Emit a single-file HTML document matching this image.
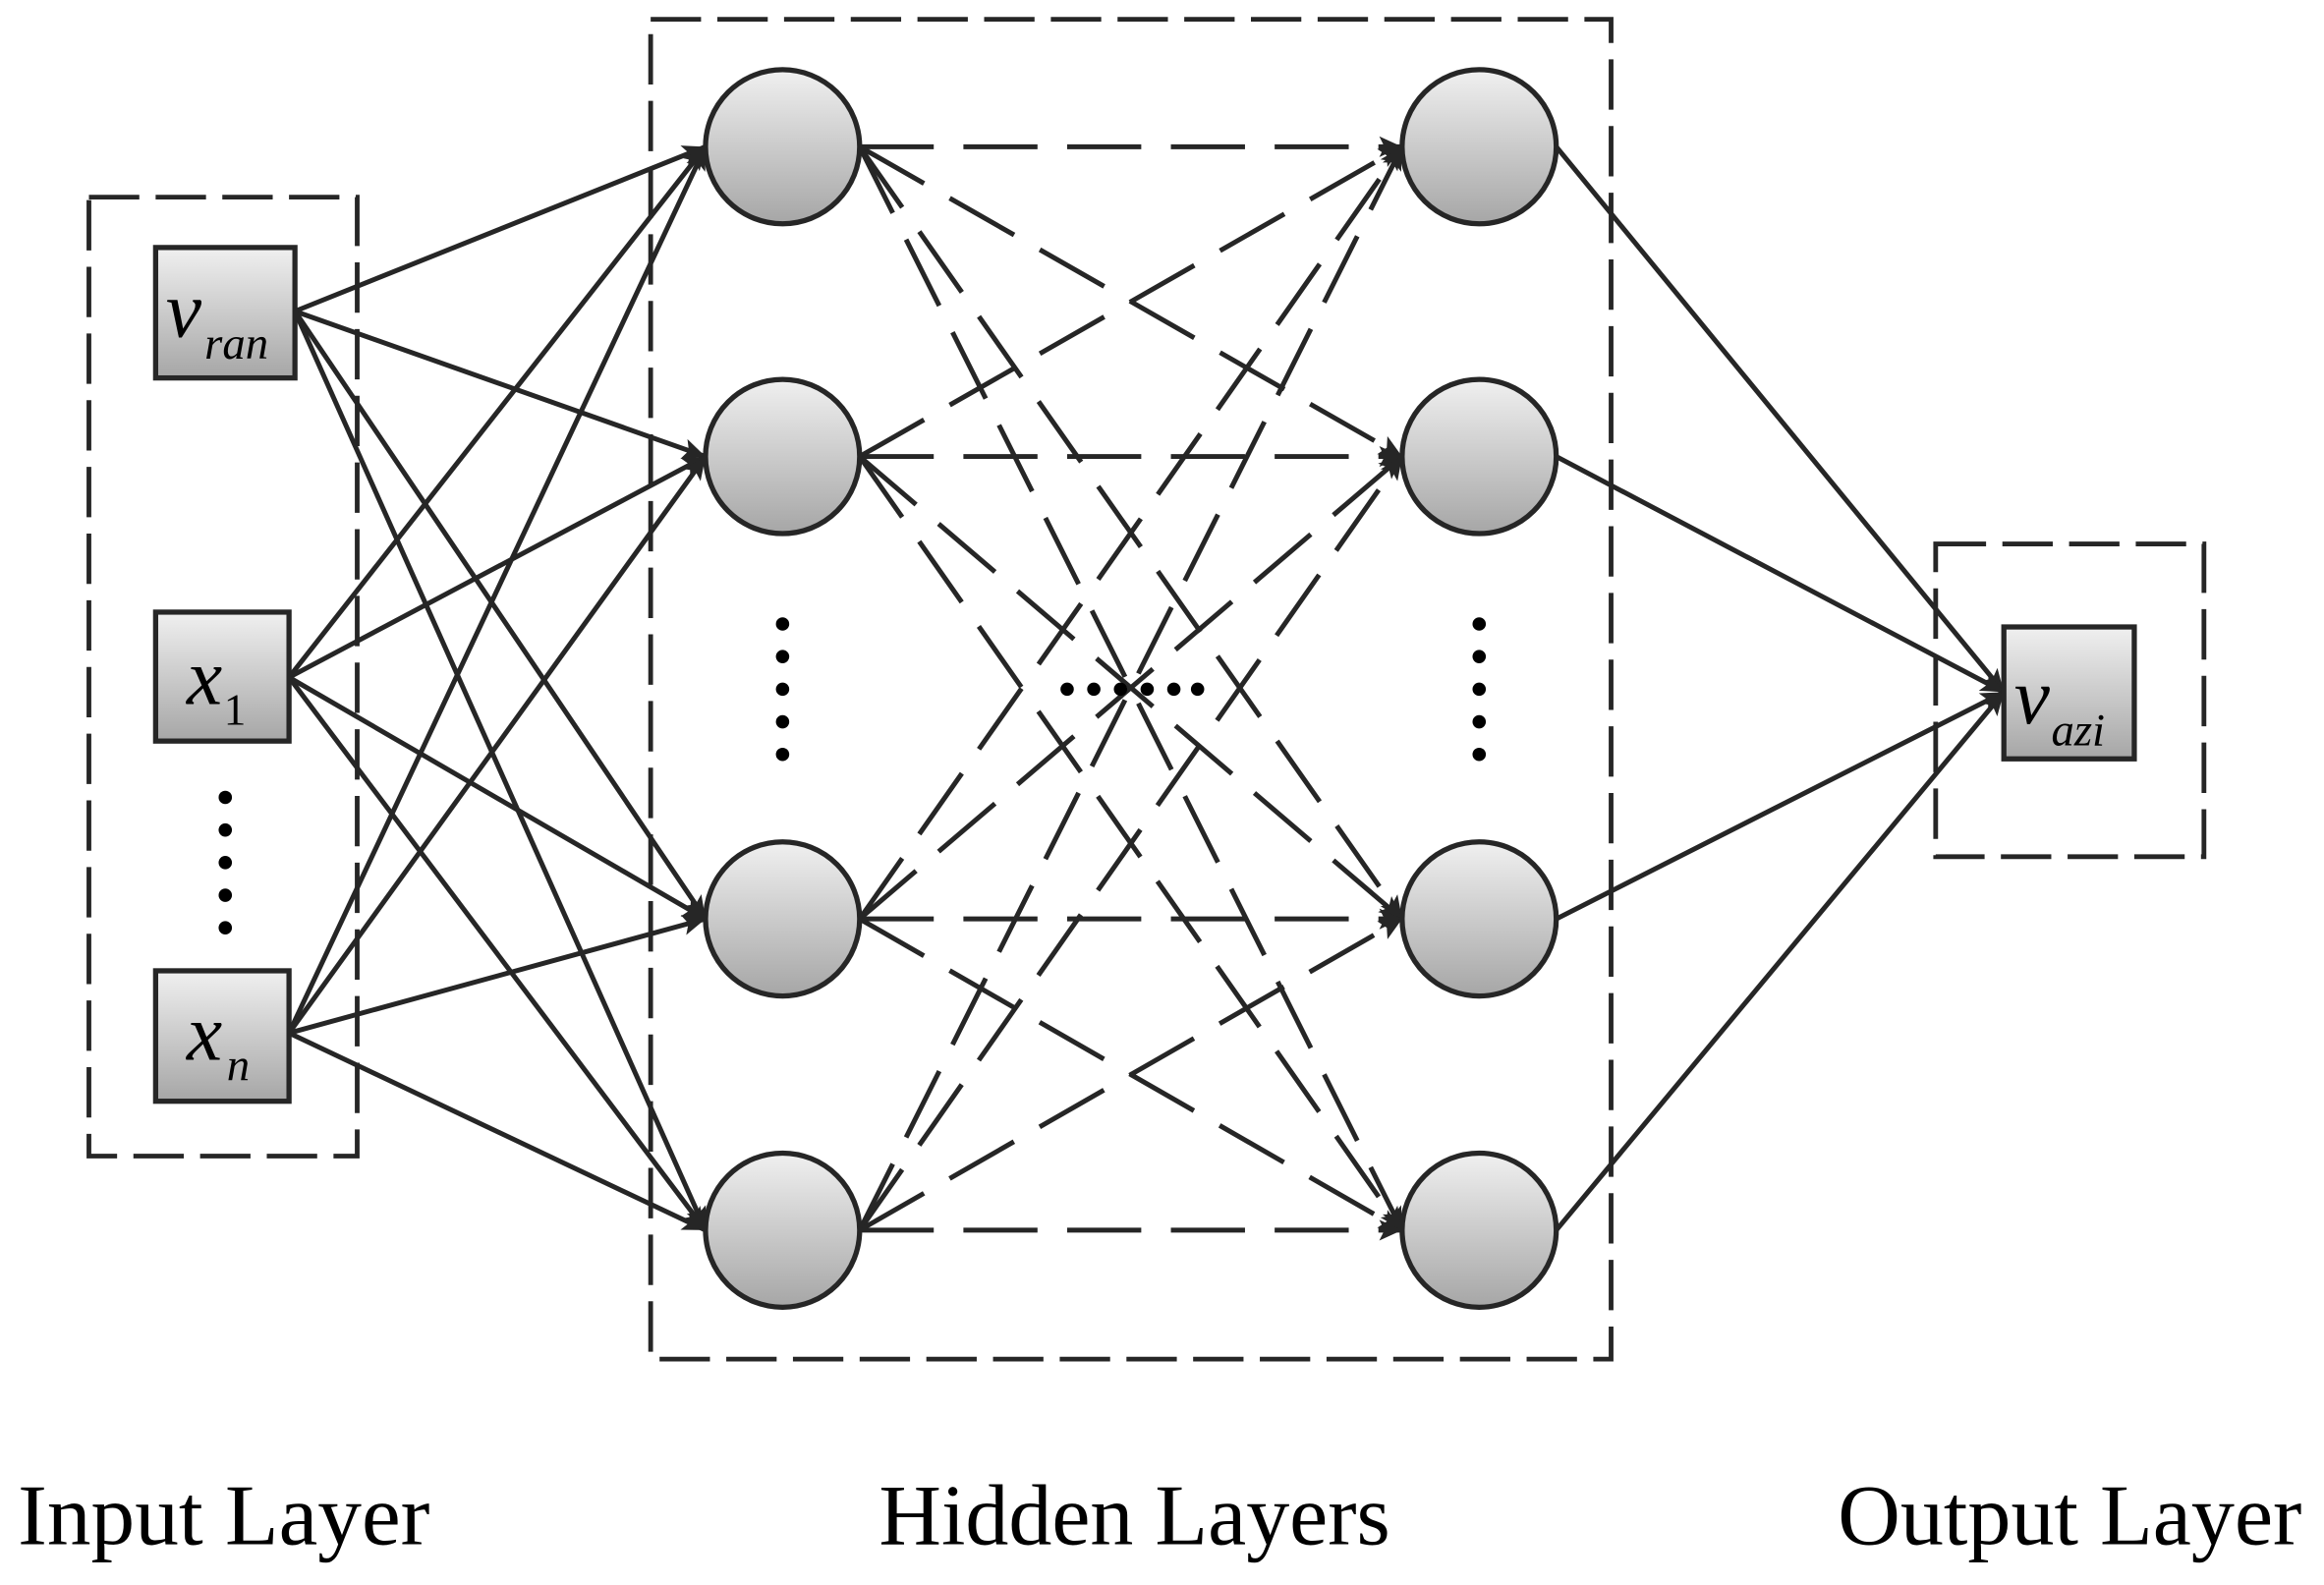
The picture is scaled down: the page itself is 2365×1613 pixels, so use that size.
<!DOCTYPE html>
<html><head><meta charset="utf-8"><style>html,body{margin:0;padding:0;background:#fff}svg{display:block}</style></head>
<body>
<svg width="2365" height="1613" viewBox="0 0 1568 1069.4" preserveAspectRatio="none" xmlns="http://www.w3.org/2000/svg">
<defs>
<linearGradient id="g" x1="0" y1="0" x2="0" y2="1"><stop offset="0" stop-color="#f0f0f0"/><stop offset="1" stop-color="#a6a6a6"/></linearGradient>
<marker id="a" viewBox="0 0 10 10" refX="10" refY="5" markerWidth="7" markerHeight="7" markerUnits="userSpaceOnUse" orient="auto" style="overflow:visible"><path d="M-12,-5 L10,5 L-12,15 L-7,5 Z" fill="#262626"/></marker>
</defs>
<g fill="none" stroke="#262626" stroke-width="3.2" stroke-dasharray="34,11">
<rect x="60" y="133" width="181" height="647"/>
<rect x="439" y="13" width="648" height="904"/>
<rect x="1306" y="367" width="181" height="211"/>
</g>
<g stroke="#262626" stroke-width="3.3" fill="none" marker-end="url(#a)">
<line x1="199" y1="210" x2="476" y2="99"/><line x1="199" y1="210" x2="476" y2="308"/><line x1="199" y1="210" x2="476" y2="620"/><line x1="199" y1="210" x2="476" y2="830"/>
<line x1="195" y1="457" x2="476" y2="99"/><line x1="195" y1="457" x2="476" y2="308"/><line x1="195" y1="457" x2="476" y2="620"/><line x1="195" y1="457" x2="476" y2="830"/>
<line x1="195" y1="697" x2="476" y2="99"/><line x1="195" y1="697" x2="476" y2="308"/><line x1="195" y1="697" x2="476" y2="620"/><line x1="195" y1="697" x2="476" y2="830"/>
<line x1="1050" y1="99" x2="1352" y2="467"/><line x1="1050" y1="308" x2="1352" y2="467"/><line x1="1050" y1="620" x2="1352" y2="467"/><line x1="1050" y1="830" x2="1352" y2="467"/>
</g>
<g stroke="#262626" stroke-width="3.3" fill="none" stroke-dasharray="50,20" marker-end="url(#a)">
<line x1="580" y1="99" x2="946" y2="99"/><line x1="580" y1="99" x2="946" y2="308"/><line x1="580" y1="99" x2="946" y2="620"/><line x1="580" y1="99" x2="946" y2="830"/>
<line x1="580" y1="308" x2="946" y2="99"/><line x1="580" y1="308" x2="946" y2="308"/><line x1="580" y1="308" x2="946" y2="620"/><line x1="580" y1="308" x2="946" y2="830"/>
<line x1="580" y1="620" x2="946" y2="99"/><line x1="580" y1="620" x2="946" y2="308"/><line x1="580" y1="620" x2="946" y2="620"/><line x1="580" y1="620" x2="946" y2="830"/>
<line x1="580" y1="830" x2="946" y2="99"/><line x1="580" y1="830" x2="946" y2="308"/><line x1="580" y1="830" x2="946" y2="620"/><line x1="580" y1="830" x2="946" y2="830"/>
</g>
<g fill="url(#g)" stroke="#262626" stroke-width="3.5">
<circle cx="528" cy="99" r="52"/><circle cx="528" cy="308" r="52"/><circle cx="528" cy="620" r="52"/><circle cx="528" cy="830" r="52"/>
<circle cx="998" cy="99" r="52"/><circle cx="998" cy="308" r="52"/><circle cx="998" cy="620" r="52"/><circle cx="998" cy="830" r="52"/>
<rect x="105" y="167" width="94" height="88"/><rect x="105" y="413" width="90" height="87"/><rect x="105" y="655" width="90" height="88"/>
<rect x="1352" y="423" width="88" height="89"/>
</g>
<g fill="#000">
<circle cx="152" cy="538" r="4.5"/><circle cx="152" cy="560" r="4.5"/><circle cx="152" cy="582" r="4.5"/><circle cx="152" cy="604" r="4.5"/><circle cx="152" cy="626" r="4.5"/>
<circle cx="528" cy="421" r="4.5"/><circle cx="528" cy="443" r="4.5"/><circle cx="528" cy="465" r="4.5"/><circle cx="528" cy="487" r="4.5"/><circle cx="528" cy="509" r="4.5"/>
<circle cx="998" cy="421" r="4.5"/><circle cx="998" cy="443" r="4.5"/><circle cx="998" cy="465" r="4.5"/><circle cx="998" cy="487" r="4.5"/><circle cx="998" cy="509" r="4.5"/>
<circle cx="720" cy="465" r="4.5"/><circle cx="738" cy="465" r="4.5"/><circle cx="756" cy="465" r="4.5"/><circle cx="774" cy="465" r="4.5"/><circle cx="792" cy="465" r="4.5"/><circle cx="808" cy="465" r="4.5"/>
</g>
<g style="font-family:'Liberation Serif',serif;font-style:italic" fill="#000">
<text x="112" y="227" font-size="54">v</text><text x="138" y="242" font-size="31">ran</text>
<text x="126" y="475" font-size="54">x</text><text x="151" y="489" font-size="30" style="font-style:normal">1</text>
<text x="126" y="715" font-size="54">x</text><text x="153" y="729" font-size="31">n</text>
<text x="1359" y="488" font-size="54">v</text><text x="1384" y="503" font-size="31">azi</text>
</g>
<g style="font-family:'Liberation Serif',serif" font-size="58" fill="#000">
<text x="12" y="1042" textLength="278" lengthAdjust="spacingAndGlyphs">Input Layer</text>
<text x="593" y="1042" textLength="345" lengthAdjust="spacingAndGlyphs">Hidden Layers</text>
<text x="1240" y="1042" textLength="313" lengthAdjust="spacingAndGlyphs">Output Layer</text>
</g>
</svg>
</body></html>
